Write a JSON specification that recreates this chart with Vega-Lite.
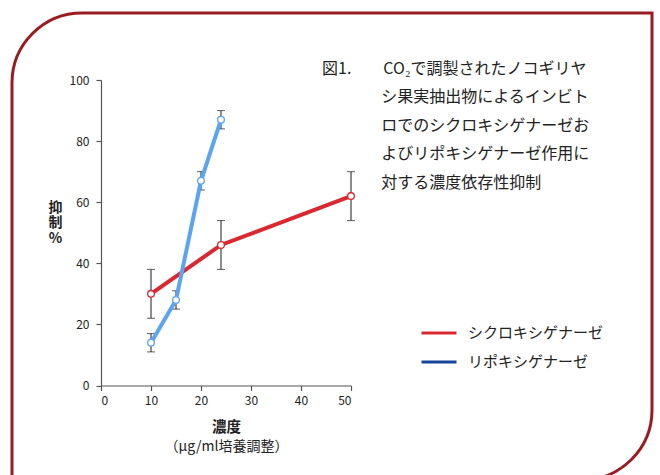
{
  "$schema": "https://vega.github.io/schema/vega-lite/v6.json",
  "width": 640,
  "height": 467,
  "autosize": "none",
  "padding": {"left": 12, "top": 13, "right": 8, "bottom": 0},
  "background": "white",
  "config": {
    "view": {"stroke": null},
    "font": "Noto Sans CJK JP",
    "axis": {
      "grid": false,
      "domainColor": "#555",
      "tickColor": "#555",
      "domainWidth": 1.2,
      "tickWidth": 1.2,
      "tickSize": 5,
      "labelColor": "#222",
      "labelFont": "Noto Sans CJK JP",
      "labelFontSize": 12,
      "titleFont": "Noto Sans CJK JP",
      "titleColor": "#222"
    }
  },
  "title": {
    "text": [
      "図1.\u3000\u3000CO₂で調製されたノコギリヤ",
      "\u200b\u3000\u3000\u3000\u2002\u2009シ果実抽出物によるインビト",
      "\u200b\u3000\u3000\u3000\u2002\u2009ロでのシクロキシゲナーゼお",
      "\u200b\u3000\u3000\u3000\u2002\u2009よびリポキシゲナーゼ作用に",
      "\u200b\u3000\u3000\u3000\u2002\u2009対する濃度依存性抑制"
    ],
    "anchor": "start",
    "frame": "group",
    "orient": "top",
    "baseline": "top",
    "offset": 0,
    "dx": 310,
    "dy": 179,
    "font": "Noto Sans CJK JP",
    "fontSize": 16,
    "fontWeight": "normal",
    "lineHeight": 28.5,
    "color": "#222"
  },
  "datasets": {
    "d": [
      {"series": "シクロキシゲナーゼ", "x": 10, "y": 30, "lo": 22, "hi": 38},
      {"series": "シクロキシゲナーゼ", "x": 24, "y": 46, "lo": 38, "hi": 54},
      {"series": "シクロキシゲナーゼ", "x": 50, "y": 62, "lo": 54, "hi": 70},
      {"series": "リポキシゲナーゼ", "x": 10, "y": 14, "lo": 11, "hi": 17},
      {"series": "リポキシゲナーゼ", "x": 15, "y": 28, "lo": 25, "hi": 31},
      {"series": "リポキシゲナーゼ", "x": 20, "y": 67, "lo": 64, "hi": 70},
      {"series": "リポキシゲナーゼ", "x": 24, "y": 87, "lo": 84, "hi": 90}
    ],
    "frame": [{"k": 1}]
  },
  "resolve": {"axis": {"x": "independent"}},
  "layer": [
    {
      "data": {"name": "frame"},
      "mark": {
        "type": "rect",
        "fill": "transparent",
        "stroke": "#9b1c20",
        "strokeWidth": 3,
        "cornerRadiusTopLeft": 70,
        "cornerRadiusBottomRight": 70
      },
      "encoding": {}
    },
    {
      "data": {"name": "d"},
      "mark": {"type": "errorbar", "ticks": {"size": 8}, "color": "#2e2e2e", "thickness": 1.1},
      "encoding": {
        "x": {
          "field": "x", "type": "quantitative",
          "scale": {"domain": [0, 50], "range": [89, 339], "nice": false},
          "axis": {
            "orient": "bottom",
            "values": [0, 10, 20, 30, 40, 50],
            "offset": -94.5,
            "labelPadding": 5,
            "title": "濃度",
            "titleFontSize": 14.5,
            "titleFontWeight": "bold",
            "titleBaseline": "top",
            "titlePadding": 14
          }
        },
        "y": {
          "field": "lo", "type": "quantitative",
          "scale": {"domain": [0, 100], "range": [372.5, 67], "nice": false},
          "title": ["抑", "制", "%"],
          "axis": {
            "values": [0, 20, 40, 60, 80, 100],
            "offset": -89,
            "labelPadding": 7,
            "title": ["抑", "制", "%"],
            "titleAngle": 0,
            "titleX": -46,
            "titleY": 187,
            "titleAlign": "center",
            "titleBaseline": "top",
            "titleFontSize": 14,
            "titleFontWeight": "bold",
            "titleLineHeight": 15.5
          }
        },
        "y2": {"field": "hi"}
      }
    },
    {
      "data": {"name": "d"},
      "mark": {"type": "line", "interpolate": "linear", "strokeWidth": 4},
      "encoding": {
        "x": {"field": "x", "type": "quantitative", "axis": null, "scale": {"domain": [0, 50], "range": [89, 339], "nice": false}},
        "y": {"field": "y", "type": "quantitative", "title": ["抑", "制", "%"], "scale": {"domain": [0, 100], "range": [372.5, 67], "nice": false}},
        "color": {
          "field": "series", "type": "nominal",
          "scale": {"range": ["#d9282f", "#5ba4f4"]},
          "legend": null
        }
      }
    },
    {
      "data": {"name": "d"},
      "mark": {"type": "point", "fill": "white", "filled": false, "size": 45, "strokeWidth": 1.3, "opacity": 1},
      "encoding": {
        "x": {"field": "x", "type": "quantitative", "axis": null, "scale": {"domain": [0, 50], "range": [89, 339], "nice": false}},
        "y": {"field": "y", "type": "quantitative", "title": ["抑", "制", "%"], "scale": {"domain": [0, 100], "range": [372.5, 67], "nice": false}},
        "color": {"field": "series", "type": "nominal", "legend": null}
      }
    },
    {
      "data": {"name": "d"},
      "transform": [{"filter": "datum.x > 1000"}],
      "mark": {"type": "line", "strokeWidth": 3},
      "encoding": {
        "x": {
          "field": "x", "type": "quantitative",
          "scale": {"domain": [0, 50], "range": [89, 339], "nice": false},
          "axis": {
            "orient": "bottom",
            "offset": -94.5,
            "domain": false,
            "ticks": false,
            "labels": false,
            "title": "（μg/ml培養調整）",
            "titleFontSize": 14,
            "titleFontWeight": "normal",
            "titleBaseline": "top",
            "titlePadding": 54
          }
        },
        "y": {"field": "y", "type": "quantitative", "title": ["抑", "制", "%"], "scale": {"domain": [0, 100], "range": [372.5, 67], "nice": false}},
        "stroke": {
          "field": "series", "type": "nominal",
          "scale": {"domain": ["シクロキシゲナーゼ", "リポキシゲナーゼ"], "range": ["#d9282f", "#16449a"]},
          "legend": {
            "orient": "none",
            "legendX": 408,
            "legendY": 301,
            "title": null,
            "padding": 0,
            "symbolType": "stroke",
            "symbolSize": 1225,
            "symbolStrokeWidth": 3,
            "labelFont": "Noto Sans CJK JP",
            "labelFontSize": 15,
            "labelColor": "#222",
            "labelOffset": 10,
            "rowPadding": 2
          }
        }
      }
    }
  ]
}
